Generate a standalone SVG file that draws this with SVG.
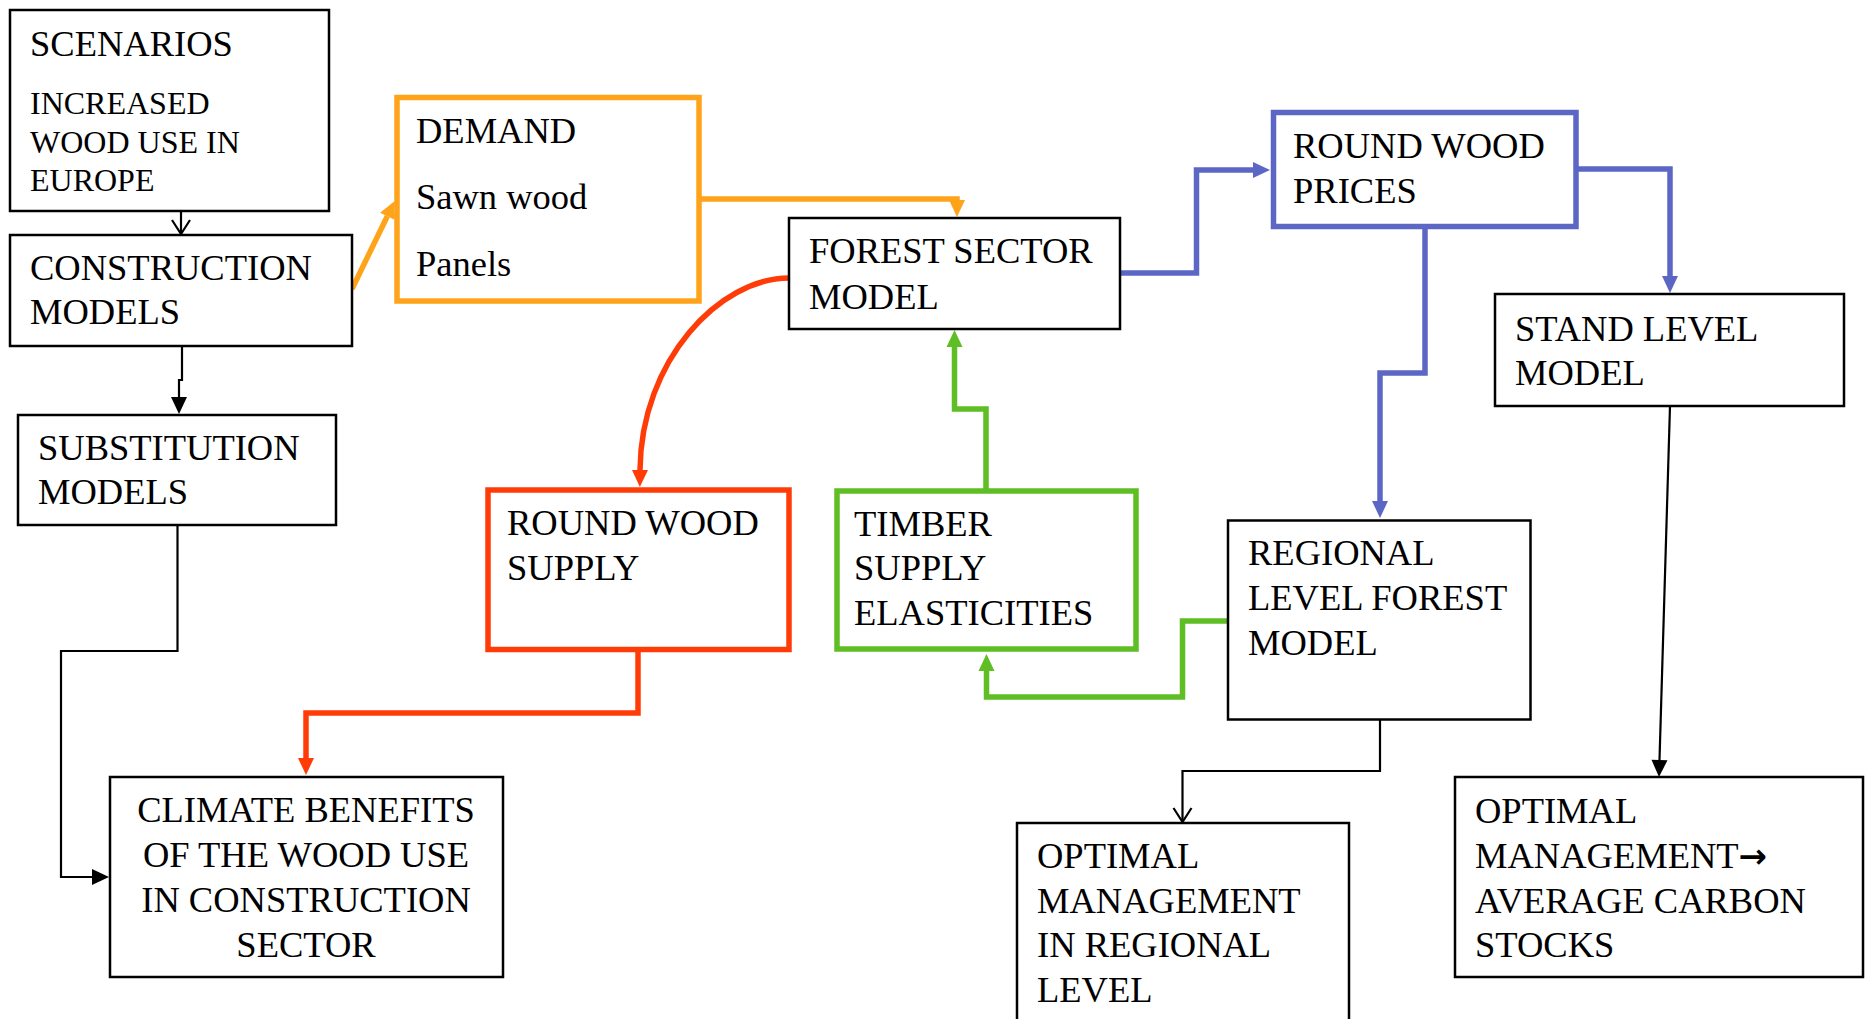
<svg xmlns="http://www.w3.org/2000/svg" width="1868" height="1019" viewBox="0 0 1868 1019">
<style>
  .bx { fill: #ffffff; stroke: #000000; stroke-width: 2.5; }
  .bo { fill: #ffffff; stroke: #FFA31A; stroke-width: 5.5; }
  .bb { fill: #ffffff; stroke: #5C67C5; stroke-width: 5.5; }
  .br { fill: #ffffff; stroke: #FF3C08; stroke-width: 5.5; }
  .bg { fill: #ffffff; stroke: #5EBE24; stroke-width: 5.5; }
  text { font-family: "Liberation Serif", "Times New Roman", serif; font-size: 36.5px; fill: #000000; }
  .sm { font-size: 32px; }
  .c { text-anchor: middle; }
  .ar { font-family: "DejaVu Sans", sans-serif; font-weight: bold; font-size: 34px; }
  .k { fill: none; stroke: #000000; stroke-width: 2.2; }
  .lo { fill: none; stroke: #FFA31A; stroke-width: 5.5; }
  .lb { fill: none; stroke: #5C67C5; stroke-width: 5.5; }
  .lr { fill: none; stroke: #FF3C08; stroke-width: 5.5; }
  .lg { fill: none; stroke: #5EBE24; stroke-width: 5.5; }
</style>
<defs>
  <marker id="aK" markerUnits="userSpaceOnUse" markerWidth="17" markerHeight="16" refX="0" refY="8" orient="auto" overflow="visible"><path d="M0,0 L17,8 L0,16 z" fill="#000000"/></marker>
  <marker id="aO" markerUnits="userSpaceOnUse" markerWidth="17" markerHeight="16" refX="0" refY="8" orient="auto" overflow="visible"><path d="M0,0 L17,8 L0,16 z" fill="#FFA31A"/></marker>
  <marker id="aB" markerUnits="userSpaceOnUse" markerWidth="17" markerHeight="16" refX="0" refY="8" orient="auto" overflow="visible"><path d="M0,0 L17,8 L0,16 z" fill="#5C67C5"/></marker>
  <marker id="aR" markerUnits="userSpaceOnUse" markerWidth="17" markerHeight="16" refX="0" refY="8" orient="auto" overflow="visible"><path d="M0,0 L17,8 L0,16 z" fill="#FF3C08"/></marker>
  <marker id="aG" markerUnits="userSpaceOnUse" markerWidth="17" markerHeight="16" refX="0" refY="8" orient="auto" overflow="visible"><path d="M0,0 L17,8 L0,16 z" fill="#5EBE24"/></marker>
  <marker id="aV" markerUnits="userSpaceOnUse" markerWidth="15" markerHeight="20" refX="14" refY="10" orient="auto" overflow="visible"><path d="M0,1 L14,10 L0,19" fill="none" stroke="#000000" stroke-width="2.2"/></marker>
</defs>

<g id="connectors">
  <path class="k" d="M181,211 V234" marker-end="url(#aV)"/>
  <path class="k" d="M182,346 V380 H179 V397" marker-end="url(#aK)"/>
  <path class="lo" d="M352,289 L387.3,216.2" marker-end="url(#aO)"/>
  <path class="lo" d="M699,199 H957 V200" marker-end="url(#aO)"/>
  <path class="lb" d="M1120,273 H1196.5 V170 H1253" marker-end="url(#aB)"/>
  <path class="lb" d="M1576,169 H1670 V276" marker-end="url(#aB)"/>
  <path class="lb" d="M1425,226 V373 H1380 V501" marker-end="url(#aB)"/>
  <path class="lr" d="M789,278 C720,278 641,360 640,470" marker-end="url(#aR)"/>
  <path class="lr" d="M638,649 V713 H306 V758" marker-end="url(#aR)"/>
  <path class="lg" d="M986,491 V409 H954.5 V347" marker-end="url(#aG)"/>
  <path class="lg" d="M1228,621 H1182.5 V697 H986.5 V671" marker-end="url(#aG)"/>
  <path class="k" d="M177.5,525 V651 H61 V877 H92" marker-end="url(#aK)"/>
  <path class="k" d="M1380,720 V771 H1182.5 V822" marker-end="url(#aV)"/>
  <path class="k" d="M1670,406 L1659.5,760" marker-end="url(#aK)"/>
</g>

<g id="scenarios">
  <rect class="bx" x="10" y="10" width="319" height="201"/>
  <text x="30" y="56">SCENARIOS</text>
  <text class="sm" x="30" y="114">INCREASED</text>
  <text class="sm" x="30" y="153">WOOD USE IN</text>
  <text class="sm" x="30" y="191">EUROPE</text>
</g>

<g id="construction-models">
  <rect class="bx" x="10" y="235" width="342" height="111"/>
  <text x="30" y="280">CONSTRUCTION</text>
  <text x="30" y="324">MODELS</text>
</g>

<g id="demand">
  <rect class="bo" x="397" y="97.5" width="302" height="203.5"/>
  <text x="416" y="143">DEMAND</text>
  <text x="416" y="209">Sawn wood</text>
  <text x="416" y="276">Panels</text>
</g>

<g id="forest-sector-model">
  <rect class="bx" x="789" y="218" width="331" height="111"/>
  <text x="809" y="263">FOREST SECTOR</text>
  <text x="809" y="309">MODEL</text>
</g>

<g id="round-wood-prices">
  <rect class="bb" x="1273.5" y="112.5" width="302.5" height="114"/>
  <text x="1293" y="158">ROUND WOOD</text>
  <text x="1293" y="203">PRICES</text>
</g>

<g id="stand-level-model">
  <rect class="bx" x="1495" y="294" width="349" height="112"/>
  <text x="1515" y="341">STAND LEVEL</text>
  <text x="1515" y="385">MODEL</text>
</g>

<g id="substitution-models">
  <rect class="bx" x="18" y="415" width="318" height="110"/>
  <text x="38" y="460">SUBSTITUTION</text>
  <text x="38" y="504">MODELS</text>
</g>

<g id="round-wood-supply">
  <rect class="br" x="488" y="490" width="301" height="159.5"/>
  <text x="507" y="535">ROUND WOOD</text>
  <text x="507" y="580">SUPPLY</text>
</g>

<g id="timber-supply-elasticities">
  <rect class="bg" x="837" y="491" width="299" height="158"/>
  <text x="854" y="535.5">TIMBER</text>
  <text x="854" y="580">SUPPLY</text>
  <text x="854" y="625">ELASTICITIES</text>
</g>

<g id="regional-level-forest-model">
  <rect class="bx" x="1228" y="520.5" width="302.5" height="199"/>
  <text x="1248" y="565">REGIONAL</text>
  <text x="1248" y="610">LEVEL FOREST</text>
  <text x="1248" y="655">MODEL</text>
</g>

<g id="climate-benefits">
  <rect class="bx" x="110" y="777" width="393" height="200"/>
  <text class="c" x="306" y="822">CLIMATE BENEFITS</text>
  <text class="c" x="306" y="867">OF THE WOOD USE</text>
  <text class="c" x="306" y="912">IN CONSTRUCTION</text>
  <text class="c" x="306" y="957">SECTOR</text>
</g>

<g id="optimal-management-regional">
  <rect class="bx" x="1017" y="823" width="332" height="215"/>
  <text x="1037" y="868">OPTIMAL</text>
  <text x="1037" y="913">MANAGEMENT</text>
  <text x="1037" y="957">IN REGIONAL</text>
  <text x="1037" y="1002">LEVEL</text>
</g>

<g id="optimal-management-carbon">
  <rect class="bx" x="1455" y="777" width="408" height="200"/>
  <text x="1475" y="823">OPTIMAL</text>
  <text x="1475" y="867.5">MANAGEMENT<tspan class="ar">→</tspan></text>
  <text x="1475" y="913">AVERAGE CARBON</text>
  <text x="1475" y="957">STOCKS</text>
</g>
</svg>
